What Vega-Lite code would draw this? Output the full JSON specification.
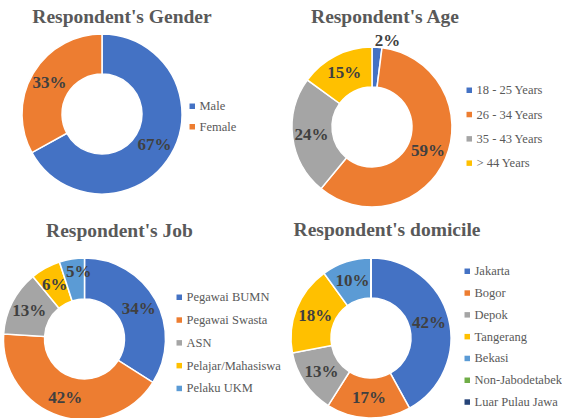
{
  "$schema": "https://vega.github.io/schema/vega-lite/v6.json",
  "background": "white",
  "padding": {"left": 0, "top": 6, "right": 0, "bottom": 0},
  "config": {
    "view": {"stroke": null},
    "title": {"font": "'Liberation Serif', 'Times New Roman', Times, serif", "fontSize": 19.5, "fontWeight": "bold", "color": "#595959", "anchor": "middle", "frame": "group", "baseline": "alphabetic"},
    "legend": {"orient": "none", "title": null, "symbolType": "square", "symbolSize": 30, "symbolStrokeWidth": 0, "labelFont": "'Liberation Serif', 'Times New Roman', Times, serif", "labelFontSize": 12.5, "labelColor": "#595959", "padding": 0, "labelOffset": 1}
  },
  "datasets": {
    "gender": [
      {"cat": "Male", "pct": 0.67, "o": 1},
      {"cat": "Female", "pct": 0.33, "o": 2}
    ],
    "age": [
      {"cat": "18 - 25 Years", "pct": 0.02, "o": 1},
      {"cat": "26 - 34 Years", "pct": 0.59, "o": 2},
      {"cat": "35 - 43 Years", "pct": 0.24, "o": 3},
      {"cat": "> 44 Years", "pct": 0.15, "o": 4}
    ],
    "job": [
      {"cat": "Pegawai BUMN", "pct": 0.34, "o": 1},
      {"cat": "Pegawai Swasta", "pct": 0.42, "o": 2},
      {"cat": "ASN", "pct": 0.13, "o": 3},
      {"cat": "Pelajar/Mahasiswa", "pct": 0.06, "o": 4},
      {"cat": "Pelaku UKM", "pct": 0.05, "o": 5}
    ],
    "domicile": [
      {"cat": "Jakarta", "pct": 0.42, "o": 1},
      {"cat": "Bogor", "pct": 0.17, "o": 2},
      {"cat": "Depok", "pct": 0.13, "o": 3},
      {"cat": "Tangerang", "pct": 0.18, "o": 4},
      {"cat": "Bekasi", "pct": 0.10, "o": 5},
      {"cat": "Non-Jabodetabek", "pct": 0, "o": 6},
      {"cat": "Luar Pulau Jawa", "pct": 0, "o": 7}
    ]
  },
  "resolve": {"scale": {"color": "independent", "theta": "independent"}, "legend": {"color": "independent"}},
  "bounds": "flush",
  "columns": 2,
  "spacing": {"row": 26, "column": 82},
  "concat": [
    {
      "width": 204, "height": 166,
      "title": {"text": "Respondent's Gender", "dx": 20, "offset": 4},
      "data": {"name": "gender"},
      "encoding": {
        "theta": {"field": "pct", "type": "quantitative", "stack": true},
        "order": {"field": "o", "type": "quantitative"}
      },
      "layer": [
        {
          "mark": {"type": "arc", "outerRadius": 80, "innerRadius": 40, "stroke": "white", "strokeWidth": 1.5},
          "encoding": {
            "color": {"field": "cat", "type": "nominal",
              "scale": {"domain": ["Male", "Female"], "range": ["#4472C4", "#ED7D31"]},
              "legend": {"legendX": 186, "legendY": 69, "rowPadding": 7.5}}
          }
        },
        {
          "mark": {"type": "text", "radius": 61, "font": "'Liberation Serif', 'Times New Roman', Times, serif", "fontWeight": "bold", "fontSize": 17, "align": "center", "baseline": "middle"},
          "encoding": {
            "detail": {"field": "cat", "type": "nominal"},
            "color": {"value": "#404040"},
            "text": {"field": "pct", "type": "quantitative", "format": ".0%"}
          }
        }
      ]
    },
    {
      "width": 172, "height": 192,
      "title": {"text": "Respondent's Age", "dx": 13, "offset": 4},
      "data": {"name": "age"},
      "encoding": {
        "theta": {"field": "pct", "type": "quantitative", "stack": true},
        "order": {"field": "o", "type": "quantitative"}
      },
      "layer": [
        {
          "mark": {"type": "arc", "outerRadius": 80, "innerRadius": 40, "stroke": "white", "strokeWidth": 1.5},
          "encoding": {
            "color": {"field": "cat", "type": "nominal",
              "scale": {"domain": ["18 - 25 Years", "26 - 34 Years", "35 - 43 Years", "> 44 Years"], "range": ["#4472C4", "#ED7D31", "#A5A5A5", "#FFC000"]},
              "legend": {"legendX": 177, "legendY": 53, "rowPadding": 11.3}}
          }
        },
        {
          "mark": {"type": "text", "radius": 61, "font": "'Liberation Serif', 'Times New Roman', Times, serif", "fontWeight": "bold", "fontSize": 17, "align": "center", "baseline": "middle"},
          "encoding": {
            "detail": {"field": "cat", "type": "nominal"},
            "color": {"value": "#404040"},
            "text": {"field": "pct", "type": "quantitative", "format": ".0%", "condition": {"test": "datum.pct < 0.03", "value": ""}}
          }
        },
        {
          "mark": {"type": "text", "radius": 86, "dx": 10, "font": "'Liberation Serif', 'Times New Roman', Times, serif", "fontWeight": "bold", "fontSize": 17, "align": "center", "baseline": "middle"},
          "encoding": {
            "detail": {"field": "cat", "type": "nominal"},
            "color": {"value": "#404040"},
            "text": {"field": "pct", "type": "quantitative", "format": ".0%", "condition": {"test": "datum.pct >= 0.03 || datum.pct <= 0", "value": ""}}
          }
        }
      ]
    },
    {
      "width": 169, "height": 180,
      "title": {"text": "Respondent's Job", "dx": 35, "offset": 8},
      "data": {"name": "job"},
      "encoding": {
        "theta": {"field": "pct", "type": "quantitative", "stack": true},
        "order": {"field": "o", "type": "quantitative"}
      },
      "layer": [
        {
          "mark": {"type": "arc", "outerRadius": 81, "innerRadius": 40, "stroke": "white", "strokeWidth": 1.5},
          "encoding": {
            "color": {"field": "cat", "type": "nominal",
              "scale": {"domain": ["Pegawai BUMN", "Pegawai Swasta", "ASN", "Pelajar/Mahasiswa", "Pelaku UKM"], "range": ["#4472C4", "#ED7D31", "#A5A5A5", "#FFC000", "#5B9BD5"]},
              "legend": {"legendX": 173, "legendY": 42, "rowPadding": 9.8}}
          }
        },
        {
          "mark": {"type": "text", "radius": 62, "font": "'Liberation Serif', 'Times New Roman', Times, serif", "fontWeight": "bold", "fontSize": 17, "align": "center", "baseline": "middle"},
          "encoding": {
            "detail": {"field": "cat", "type": "nominal"},
            "color": {"value": "#404040"},
            "text": {"field": "pct", "type": "quantitative", "format": ".0%", "condition": {"test": "datum.cat == 'Pelaku UKM'", "value": ""}}
          }
        },
        {
          "mark": {"type": "text", "radius": 68, "dx": 5, "font": "'Liberation Serif', 'Times New Roman', Times, serif", "fontWeight": "bold", "fontSize": 17, "align": "center", "baseline": "middle"},
          "encoding": {
            "detail": {"field": "cat", "type": "nominal"},
            "color": {"value": "#404040"},
            "text": {"field": "pct", "type": "quantitative", "format": ".0%", "condition": {"test": "datum.cat != 'Pelaku UKM'", "value": ""}}
          }
        }
      ]
    },
    {
      "width": 170, "height": 178,
      "title": {"text": "Respondent's domicile", "dx": 16, "offset": 9},
      "data": {"name": "domicile"},
      "encoding": {
        "theta": {"field": "pct", "type": "quantitative", "stack": true},
        "order": {"field": "o", "type": "quantitative"}
      },
      "layer": [
        {
          "mark": {"type": "arc", "outerRadius": 80, "innerRadius": 40, "stroke": "white", "strokeWidth": 1.5},
          "encoding": {
            "color": {"field": "cat", "type": "nominal",
              "scale": {"domain": ["Jakarta", "Bogor", "Depok", "Tangerang", "Bekasi", "Non-Jabodetabek", "Luar Pulau Jawa"], "range": ["#4472C4", "#ED7D31", "#A5A5A5", "#FFC000", "#5B9BD5", "#70AD47", "#264478"]},
              "legend": {"legendX": 175, "legendY": 16, "rowPadding": 8.8}}
          }
        },
        {
          "mark": {"type": "text", "radius": 60, "font": "'Liberation Serif', 'Times New Roman', Times, serif", "fontWeight": "bold", "fontSize": 17, "align": "center", "baseline": "middle"},
          "encoding": {
            "detail": {"field": "cat", "type": "nominal"},
            "color": {"value": "#404040"},
            "text": {"field": "pct", "type": "quantitative", "format": ".0%", "condition": {"test": "datum.pct <= 0", "value": ""}}
          }
        }
      ]
    }
  ]
}
